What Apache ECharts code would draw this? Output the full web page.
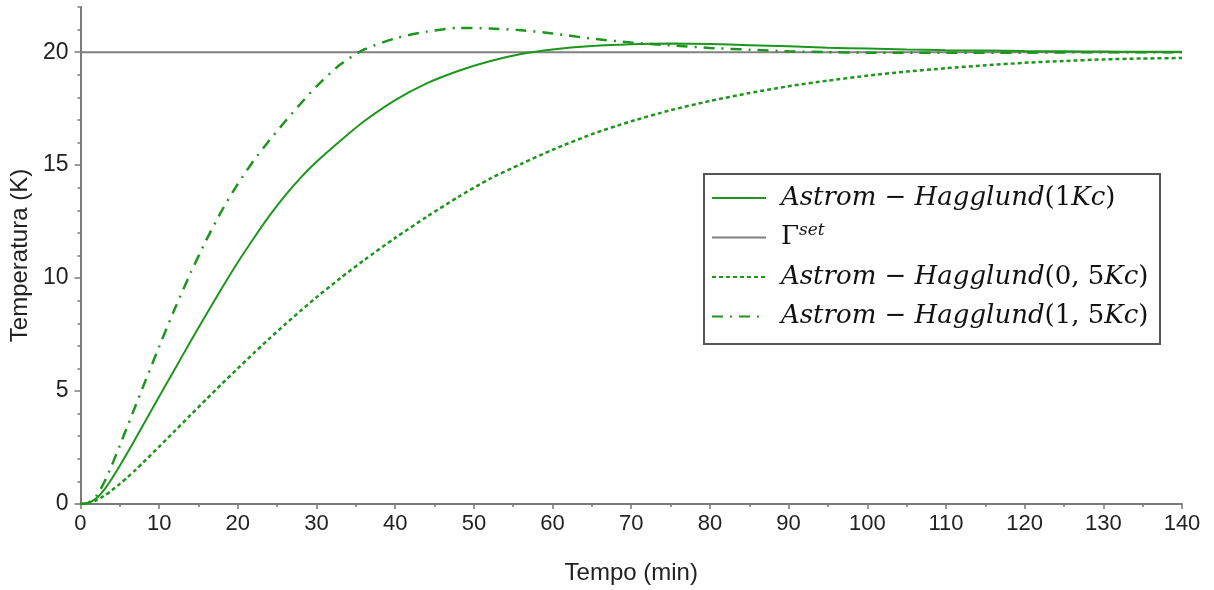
<!DOCTYPE html>
<html>
<head>
<meta charset="utf-8">
<script src="https://cdn.jsdelivr.net/npm/echarts@6/dist/echarts.min.js"></script>
<style>
html,body{margin:0;padding:0;background:#fff;}
#chart{width:1214px;height:590px;}
</style>
</head>
<body>
<div id="chart"></div>
<script>
// Time (min)
const times = [0,1,2,3,4,5,6,7,8,10,12,14,16,18,20,22,24,26,28,30,33,36,40,44,48,52,56,60,65,70,75,80,85,90,95,100,105,110,115,120,125,130,135,140];
// Astrom-Hagglund (1Kc)
const ah1 = [0,0.05,0.25,0.63,1.13,1.69,2.29,2.9,3.52,4.76,5.98,7.2,8.4,9.57,10.7,11.75,12.75,13.65,14.45,15.15,16.07,16.93,17.88,18.62,19.17,19.6,19.92,20.12,20.27,20.35,20.38,20.36,20.31,20.26,20.2,20.16,20.12,20.09,20.07,20.05,20.04,20.03,20.02,20.02];
// Astrom-Hagglund (0,5Kc)
const ah05 = [0,0.04,0.16,0.36,0.61,0.89,1.19,1.51,1.85,2.54,3.24,3.94,4.64,5.33,6.0,6.67,7.32,7.95,8.56,9.15,9.99,10.78,11.78,12.71,13.59,14.39,15.05,15.68,16.37,16.94,17.43,17.84,18.19,18.49,18.74,18.96,19.14,19.29,19.42,19.53,19.61,19.68,19.72,19.74];
// Astrom-Hagglund (1,5Kc)
const ah15 = [0,0.05,0.35,0.95,1.73,2.59,3.47,4.35,5.23,6.97,8.65,10.23,11.69,13.01,14.17,15.19,16.09,16.93,17.73,18.49,19.45,20.11,20.61,20.91,21.07,21.05,20.97,20.83,20.6,20.43,20.3,20.19,20.11,20.04,20.0,19.98,19.97,19.97,19.98,19.98,19.99,20.0,20.0,20.0];
// Setpoint
const setTimes = [0,140];
const setValues = [20,20];
const yTickValues = [0,5,10,15,20];

const zip = (xs, ys) => xs.map((t,i)=>[t, ys[i]]);
const GREEN = '#1e961e';
const AX = '#7a7a7a';
const SANS = '"Liberation Sans", Arial, sans-serif';
const SERIF = '"DejaVu Serif", serif';

const names = ['AH1','SET','AH05','AH15'];
const legendText = {
  AH1: '{sp| }{i|Astrom}{n| − }{i|Hagglund}{n|(1}{i|Kc}{n|)}',
  SET: '{sp| }{n|Γ}{sup|set}',
  AH05: '{sp| }{i|Astrom}{n| − }{i|Hagglund}{n|(0, 5}{i|Kc}{n|)}',
  AH15: '{sp| }{i|Astrom}{n| − }{i|Hagglund}{n|(1, 5}{i|Kc}{n|)}'
};

const chart = echarts.init(document.getElementById('chart'));
chart.setOption({
  animation: false,
  backgroundColor: '#fff',
  grid: {left: 80, right: 32, top: 7, bottom: 85},
  xAxis: {
    type: 'value', min: 0, max: 140, interval: 10,
    axisLine: {show: true, onZero: false, lineStyle: {color: AX, width: 2}},
    axisTick: {show: true, length: 5, lineStyle: {color: AX, width: 1.5}},
    minorTick: {show: true, splitNumber: 2, length: 3, lineStyle: {color: AX, width: 1.5}},
    splitLine: {show: false},
    axisLabel: {fontSize: 22, color: '#222', margin: 9, fontFamily: SANS},
    name: 'Tempo (min)', nameLocation: 'middle', nameGap: 57,
    nameTextStyle: {fontSize: 24, color: '#222', fontFamily: SANS}
  },
  yAxis: [
    {
      type: 'value', min: 0, max: 22, interval: 1, position: 'left',
      axisLine: {show: true, onZero: false, lineStyle: {color: AX, width: 2}},
      axisTick: {show: true, length: 3, lineStyle: {color: AX, width: 1.5}},
      axisLabel: {show: false},
      splitLine: {show: false}
    },
    {
      type: 'value', min: 0, max: 22, interval: 5, position: 'left',
      axisLine: {show: false},
      axisTick: {show: true, length: 6, customValues: yTickValues, lineStyle: {color: AX, width: 1.5}},
      axisLabel: {customValues: yTickValues, fontSize: 23, color: '#222', margin: 12, fontFamily: SANS,
        formatter: v => (v % 5 === 0 ? String(v) : '')},
      splitLine: {show: false},
      name: 'Temperatura (K)', nameLocation: 'middle', nameGap: 42, nameRotate: 90,
      nameTextStyle: {fontSize: 24, color: '#222', fontFamily: SANS}
    }
  ],
  graphic: [{
    type: 'rect', z: 3,
    shape: {x: 704, y: 174, width: 456, height: 170},
    style: {fill: '#fff', stroke: '#555', lineWidth: 2}
  }],
  legend: {
    orient: 'vertical', left: 711, top: 183, z: 5,
    itemWidth: 54, itemHeight: 14, itemGap: 9.5, padding: 0,
    selectedMode: false,
    itemStyle: {opacity: 0, borderWidth: 0},
    data: names,
    formatter: n => legendText[n],
    textStyle: {
      lineHeight: 30,
      rich: {
        sp: {width: 10, fontSize: 10},
        i: {fontFamily: SERIF, fontStyle: 'italic', fontSize: 26, color: '#111', lineHeight: 30},
        n: {fontFamily: SERIF, fontSize: 26, color: '#111', lineHeight: 30},
        sup: {fontFamily: SERIF, fontStyle: 'italic', fontSize: 17, color: '#111', verticalAlign: 'top', lineHeight: 20, padding: [0,0,8,0]}
      }
    }
  },
  series: [
    {name: 'SET', type: 'line', yAxisIndex: 1, data: zip(setTimes, setValues), symbol: 'none',
      lineStyle: {color: '#808080', width: 2}, itemStyle: {color: '#808080'}, z: 1},
    {name: 'AH05', type: 'line', yAxisIndex: 1, data: zip(times, ah05), symbol: 'none', smooth: 0.25,
      lineStyle: {color: GREEN, width: 2.5, type: [4, 3]}, itemStyle: {color: GREEN}},
    {name: 'AH15', type: 'line', yAxisIndex: 1, data: zip(times, ah15), symbol: 'none', smooth: 0.25,
      lineStyle: {color: GREEN, width: 2.5, type: [11, 7, 2, 7]}, itemStyle: {color: GREEN}},
    {name: 'AH1', type: 'line', yAxisIndex: 1, data: zip(times, ah1), symbol: 'none', smooth: 0.25,
      lineStyle: {color: GREEN, width: 2}, itemStyle: {color: GREEN}}
  ]
});
</script>
</body>
</html>
